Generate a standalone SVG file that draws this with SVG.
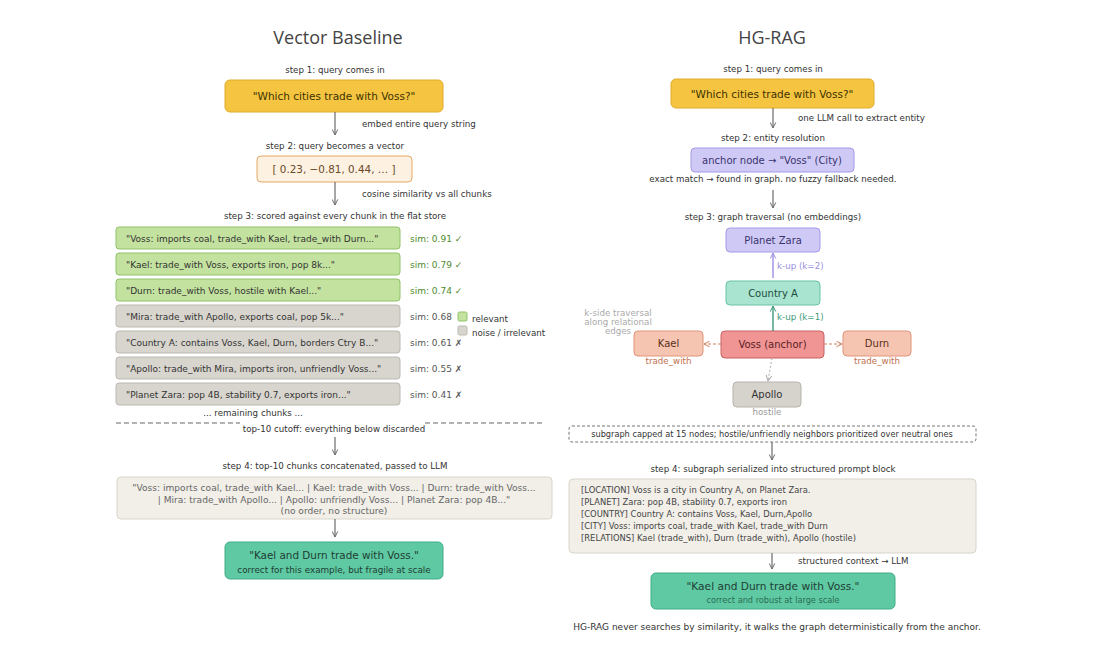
<svg xmlns="http://www.w3.org/2000/svg" width="1120" height="658" viewBox="0 0 1120 658">
<defs>
<style>
text{font-family:"DejaVu Sans","Verdana",sans-serif;font-size:8.7px;fill:#333}
.title{font-family:"Open Sans","Noto Sans",sans-serif;font-size:18px;fill:#444}
.c{text-anchor:middle}
.q{font-size:10.5px;fill:#3d3200}
.node{font-size:10px}
.chunk{font-size:9px;fill:#333}
.g{fill:#4e8a2e;font-size:9px}
.gray{fill:#555;font-size:9px}
.concat{fill:#666;font-size:9.1px}
.arrow{stroke:#6b6b6b;stroke-width:1.2;fill:none}
.gchunk{fill:#c3e29f;stroke:#8fc26a;stroke-width:1}
.nchunk{fill:#d8d5ce;stroke:#bcb9b1;stroke-width:1}
.pl{fill:#444;font-size:8.4px}
</style>
<marker id="ah" viewBox="0 0 10 10" refX="9" refY="5" markerWidth="7" markerHeight="7" orient="auto" markerUnits="userSpaceOnUse">
<path d="M1,1 L9,5 L1,9" fill="none" stroke="#6b6b6b" stroke-width="1.4"/>
</marker>
<marker id="ahp" viewBox="0 0 10 10" refX="9" refY="5" markerWidth="7" markerHeight="7" orient="auto" markerUnits="userSpaceOnUse">
<path d="M1,1 L9,5 L1,9" fill="none" stroke="#9a8fe0" stroke-width="1.4"/>
</marker>
<marker id="aht" viewBox="0 0 10 10" refX="9" refY="5" markerWidth="7" markerHeight="7" orient="auto" markerUnits="userSpaceOnUse">
<path d="M1,1 L9,5 L1,9" fill="none" stroke="#3e9a7a" stroke-width="1.4"/>
</marker>
<marker id="aho" viewBox="0 0 10 10" refX="9" refY="5" markerWidth="7" markerHeight="7" orient="auto" markerUnits="userSpaceOnUse">
<path d="M1,1 L9,5 L1,9" fill="none" stroke="#d0805e" stroke-width="1.4"/>
</marker>
<marker id="ahg" viewBox="0 0 10 10" refX="9" refY="5" markerWidth="7" markerHeight="7" orient="auto" markerUnits="userSpaceOnUse">
<path d="M1,1 L9,5 L1,9" fill="none" stroke="#aaa" stroke-width="1.4"/>
</marker>
</defs>
<rect width="1120" height="658" fill="#fff"/>

<!-- LEFT COLUMN -->
<text class="title c" x="338" y="44">Vector Baseline</text>
<text class="c" x="335" y="73">step 1: query comes in</text>

<g id="v-query">
<rect x="225" y="80" width="218" height="32" rx="5" fill="#f5c542" stroke="#e2aa2a"/>
<text class="c q" x="334" y="100">"Which cities trade with Voss?"</text>
</g>
<text x="362" y="127">embed entire query string</text>
<text class="c" x="335" y="149">step 2: query becomes a vector</text>

<g id="v-vector">
<rect x="257" y="156" width="155" height="26" rx="4" fill="#fdf1e1" stroke="#e6a866"/>
<text class="c" x="334" y="173" style="font-size:10.4px;fill:#6b4a2a">[ 0.23, −0.81, 0.44, … ]</text>
</g>
<text x="362" y="197">cosine similarity vs all chunks</text>
<text class="c" x="335" y="219">step 3: scored against every chunk in the flat store</text>

<g id="chunk1"><rect class="gchunk" x="116" y="227" width="284" height="22" rx="3"/><text class="chunk" x="126" y="241.5">"Voss: imports coal, trade_with Kael, trade_with Durn..."</text><text class="g" x="410" y="241.5">sim: 0.91 ✓</text></g>
<g id="chunk2"><rect class="gchunk" x="116" y="253" width="284" height="22" rx="3"/><text class="chunk" x="126" y="267.5">"Kael: trade_with Voss, exports iron, pop 8k..."</text><text class="g" x="410" y="267.5">sim: 0.79 ✓</text></g>
<g id="chunk3"><rect class="gchunk" x="116" y="279" width="284" height="22" rx="3"/><text class="chunk" x="126" y="293.5">"Durn: trade_with Voss, hostile with Kael..."</text><text class="g" x="410" y="293.5">sim: 0.74 ✓</text></g>
<g id="chunk4"><rect class="nchunk" x="116" y="305" width="284" height="22" rx="3"/><text class="chunk" x="126" y="319.5">"Mira: trade_with Apollo, exports coal, pop 5k..."</text><text class="gray" x="410" y="319.5">sim: 0.68</text></g>
<g id="chunk5"><rect class="nchunk" x="116" y="331" width="284" height="22" rx="3"/><text class="chunk" x="126" y="345.5">"Country A: contains Voss, Kael, Durn, borders Ctry B..."</text><text class="gray" x="410" y="345.5">sim: 0.61 ✗</text></g>
<g id="chunk6"><rect class="nchunk" x="116" y="357" width="284" height="22" rx="3"/><text class="chunk" x="126" y="371.5">"Apollo: trade_with Mira, imports iron, unfriendly Voss..."</text><text class="gray" x="410" y="371.5">sim: 0.55 ✗</text></g>
<g id="chunk7"><rect class="nchunk" x="116" y="383" width="284" height="22" rx="3"/><text class="chunk" x="126" y="397.5">"Planet Zara: pop 4B, stability 0.7, exports iron..."</text><text class="gray" x="410" y="397.5">sim: 0.41 ✗</text></g>

<g id="legend">
<rect x="458" y="312" width="9" height="9" rx="1.5" fill="#c3e29f" stroke="#8fc26a"/>
<text x="472" y="322">relevant</text>
<rect x="458" y="326" width="9" height="9" rx="1.5" fill="#d8d5ce" stroke="#bcb9b1"/>
<text x="472" y="336">noise / irrelevant</text>
</g>

<text class="c" x="253" y="416">... remaining chunks ...</text>
<g id="cutoff">
<line x1="116" y1="423" x2="240" y2="423" stroke="#666" stroke-dasharray="5,3"/>
<line x1="425" y1="423" x2="543" y2="423" stroke="#666" stroke-dasharray="5,3"/>
<text class="c" x="334" y="432">top-10 cutoff: everything below discarded</text>
</g>
<text class="c" x="335" y="469">step 4: top-10 chunks concatenated, passed to LLM</text>

<g id="v-concat">
<rect x="117" y="477" width="435" height="42" rx="4" fill="#f2efe9" stroke="#d9d5cc"/>
<text class="c concat" x="334" y="491">"Voss: imports coal, trade_with Kael... | Kael: trade_with Voss... | Durn: trade_with Voss...</text>
<text class="c concat" x="334" y="503">| Mira: trade_with Apollo... | Apollo: unfriendly Voss... | Planet Zara: pop 4B..."</text>
<text class="c concat" x="334" y="514">(no order, no structure)</text>
</g>

<g id="v-answer">
<rect x="225" y="542" width="218" height="37" rx="5" fill="#5ec9a3" stroke="#3fae87"/>
<text class="c" x="334" y="559" style="font-size:10.4px;fill:#1f3d33">"Kael and Durn trade with Voss."</text>
<text class="c" x="334" y="573" style="font-size:8.8px;fill:#1f3d33">correct for this example, but fragile at scale</text>
</g>

<!-- RIGHT COLUMN -->
<text class="title c" x="772" y="44">HG-RAG</text>
<text class="c" x="773" y="72">step 1: query comes in</text>

<g id="h-query">
<rect x="671" y="79" width="203" height="29" rx="5" fill="#f5c542" stroke="#e2aa2a"/>
<text class="c q" x="772" y="98">"Which cities trade with Voss?"</text>
</g>
<text x="798" y="121">one LLM call to extract entity</text>
<text class="c" x="773" y="141">step 2: entity resolution</text>

<g id="h-anchor">
<rect x="691" y="148" width="163" height="24" rx="4" fill="#cfcaf5" stroke="#a39ae6"/>
<text class="c node" x="772" y="163.5" style="fill:#3a3470">anchor node → "Voss" (City)</text>
</g>
<text class="c" x="773" y="182">exact match → found in graph. no fuzzy fallback needed.</text>
<text class="c" x="773" y="220">step 3: graph traversal (no embeddings)</text>

<g id="planet-zara">
<rect x="726" y="228" width="94" height="24" rx="4" fill="#cfcaf5" stroke="#a39ae6"/>
<text class="c node" x="773" y="243.5" style="fill:#3a3470">Planet Zara</text>
</g>
<g id="country-a">
<rect x="726" y="281" width="94" height="24" rx="4" fill="#a8e4cf" stroke="#68c4a2"/>
<text class="c node" x="773" y="296.5" style="fill:#1f4d3e">Country A</text>
</g>
<g id="voss">
<rect x="721" y="331" width="103" height="27" rx="4" fill="#f09494" stroke="#c96060"/>
<text class="c node" x="772.5" y="348" style="fill:#5a1f1f">Voss (anchor)</text>
</g>
<g id="kael">
<rect x="634" y="331" width="69" height="25" rx="4" fill="#f6c5b1" stroke="#e0957a"/>
<text class="c node" x="668.5" y="347" style="fill:#5a2f20">Kael</text>
<text class="c" x="668.5" y="364" style="fill:#c0704e">trade_with</text>
</g>
<g id="durn">
<rect x="843" y="331" width="68" height="25" rx="4" fill="#f6c5b1" stroke="#e0957a"/>
<text class="c node" x="877" y="347" style="fill:#5a2f20">Durn</text>
<text class="c" x="877" y="364" style="fill:#c0704e">trade_with</text>
</g>
<g id="apollo">
<rect x="733" y="382" width="68" height="25" rx="4" fill="#d6d3cc" stroke="#b6b3ab"/>
<text class="c node" x="767" y="398" style="fill:#333">Apollo</text>
<text class="c" x="767" y="415" style="fill:#999">hostile</text>
</g>
<g id="kside-note">
<text class="c" x="618" y="316" style="fill:#aaa">k-side traversal</text>
<text class="c" x="618" y="325" style="fill:#aaa">along relational</text>
<text class="c" x="618" y="334" style="fill:#aaa">edges</text>
</g>

<g id="h-cap">
<rect x="569" y="426" width="407" height="16" rx="3" fill="#fff" stroke="#777" stroke-dasharray="3,2"/>
<text class="c" x="772" y="437" style="font-size:8.2px">subgraph capped at 15 nodes; hostile/unfriendly neighbors prioritized over neutral ones</text>
</g>
<text class="c" x="773" y="472">step 4: subgraph serialized into structured prompt block</text>

<g id="h-prompt">
<rect x="569" y="479" width="407" height="74" rx="4" fill="#f2efe9" stroke="#d9d5cc"/>
<text class="pl" x="581" y="493">[LOCATION] Voss is a city in Country A, on Planet Zara.</text>
<text class="pl" x="581" y="505">[PLANET] Zara: pop 4B, stability 0.7, exports iron</text>
<text class="pl" x="581" y="517">[COUNTRY] Country A: contains Voss, Kael, Durn,Apollo</text>
<text class="pl" x="581" y="529">[CITY] Voss: imports coal, trade_with Kael, trade_with Durn</text>
<text class="pl" x="581" y="541">[RELATIONS] Kael (trade_with), Durn (trade_with), Apollo (hostile)</text>
</g>
<text x="798" y="564">structured context → LLM</text>

<g id="h-answer">
<rect x="651" y="573" width="244" height="36" rx="5" fill="#5ec9a3" stroke="#3fae87"/>
<text class="c" x="773" y="590" style="font-size:10.6px;fill:#1f3d33">"Kael and Durn trade with Voss."</text>
<text class="c" x="773" y="603" style="font-size:8.2px;fill:#2a6e55">correct and robust at large scale</text>
</g>
<text class="c" x="777" y="630" style="font-size:9px">HG-RAG never searches by similarity, it walks the graph deterministically from the anchor.</text>

<!-- CONNECTORS -->
<g id="connectors">
<line class="arrow" x1="335" y1="112" x2="335" y2="135" marker-end="url(#ah)"/>
<line class="arrow" x1="335" y1="182" x2="335" y2="205" marker-end="url(#ah)"/>
<line class="arrow" x1="335" y1="437" x2="335" y2="455" marker-end="url(#ah)"/>
<line class="arrow" x1="335" y1="519" x2="335" y2="537" marker-end="url(#ah)"/>
<line class="arrow" x1="773" y1="108" x2="773" y2="128" marker-end="url(#ah)"/>
<line class="arrow" x1="773" y1="190" x2="773" y2="208" marker-end="url(#ah)"/>
<line x1="773" y1="278" x2="773" y2="253" stroke="#9a8fe0" stroke-width="1.4" marker-end="url(#ahp)"/>
<text x="777" y="269" style="fill:#9a8fe0">k-up (k=2)</text>
<line x1="773" y1="331" x2="773" y2="306" stroke="#3e9a7a" stroke-width="1.4" marker-end="url(#aht)"/>
<text x="777" y="320" style="fill:#3e9a7a">k-up (k=1)</text>
<line x1="721" y1="344" x2="704" y2="344" stroke="#d0805e" stroke-width="1.2" stroke-dasharray="3,2" marker-end="url(#aho)"/>
<line x1="824" y1="344" x2="842" y2="344" stroke="#d0805e" stroke-width="1.2" stroke-dasharray="3,2" marker-end="url(#aho)"/>
<line x1="772" y1="358" x2="768" y2="381" stroke="#aaa" stroke-width="1" stroke-dasharray="2,2" marker-end="url(#ahg)"/>
<line class="arrow" x1="772" y1="442" x2="772" y2="460" marker-end="url(#ah)"/>
<line class="arrow" x1="772" y1="553" x2="772" y2="569" marker-end="url(#ah)"/>
</g>
</svg>
